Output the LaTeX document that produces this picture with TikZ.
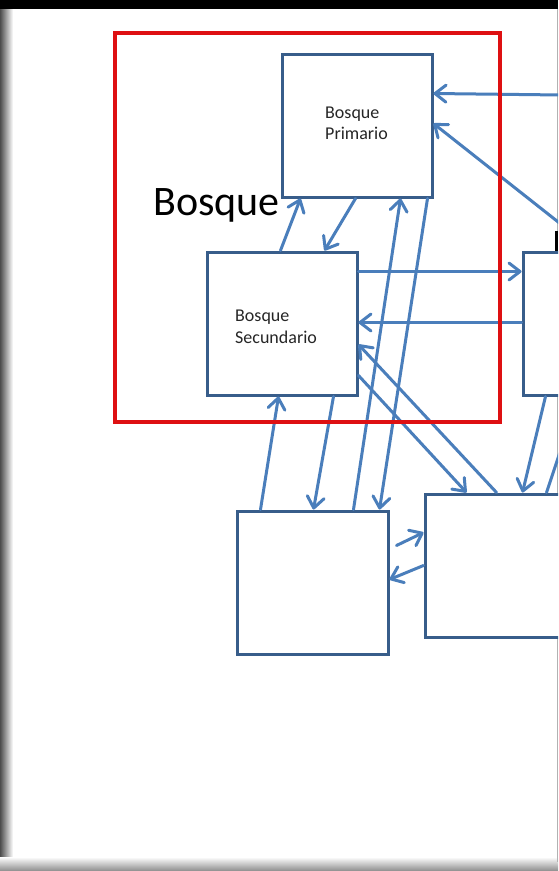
\documentclass[tikz,border=0pt]{standalone}
\usepackage{fontspec}
\setmainfont{Carlito}
\usetikzlibrary{arrows.meta}
\definecolor{boxblue}{RGB}{56,93,138}
\definecolor{arrblue}{RGB}{74,126,187}
\definecolor{frred}{RGB}{222,16,18}
\begin{document}
\begin{tikzpicture}[x=1pt,y=-1pt,
  box/.style={draw=boxblue,line width=3pt,fill=white,rectangle,inner sep=0pt,minimum width=150pt,minimum height=143pt},
  conn/.style={draw=arrblue,line width=3pt,line cap=round},
  arr/.style={conn,-{Straight Barb[length=11pt,width=17pt,round]}},
  lbl/.style={font=\fontsize{18}{21.6}\selectfont,align=left,inner sep=0pt,anchor=north west,text=black!85}]
\useasboundingbox (0,0) rectangle (558,871);
\clip (0,0) rectangle (558,871);
% slide background and frame
\fill[white] (0,0) rectangle (558,871);
\shade[left color=black!70,right color=white] (0,9) rectangle (13,871);
\shade[top color=white,bottom color=black!45] (0,857) rectangle (558,871);
\fill[black] (0,0) rectangle (558,9);
\draw[black!30,line width=1pt] (557.5,9) -- (557.5,862);
\draw[black,line width=2.6pt] (556.5,231) -- (556.5,303);
% boxes
\node[box] (prim) at (357,125.5) {};
\node[box] (sec) at (282,323.5) {};
\node[box,minimum width=151pt] (bl) at (312.5,582.5) {};
\node[box] (br) at (500,565.5) {};
\node[box] (rm) at (598,323.5) {};
% labels
\node[lbl] (tprim) at (325,106.5) {Bosque\\Primario};
\node[lbl] (tsec) at (235,310) {Bosque\\Secundario};
\node[font=\fontsize{42}{48}\selectfont,anchor=base west,inner sep=0pt] (tbig) at (153,215) {Bosque};
% free ends
\coordinate (r1) at (562,95);
\coordinate (r2) at (562,225);
\coordinate (r3) at (562,446);
% connectors
\draw[arr] (r1) -- ([yshift=-41pt]prim.north east);
\draw[arr] (r2) -- ([yshift=-71pt]prim.north east);
\draw[arr] ([xshift=75pt]sec.north west) -- ([xshift=20pt]prim.south west);
\draw[arr] ([xshift=75pt]prim.south west) -- ([xshift=119pt]sec.north west);
\draw[arr] ([xshift=118pt]bl.north west) -- ([xshift=120pt]prim.south west);
\draw[arr] ([xshift=147pt]prim.south west) -- ([xshift=144pt]bl.north west);
\draw[arr] ([yshift=-21pt]sec.north east) -- ([yshift=-21pt]rm.north west);
\draw[arr] ([yshift=-72pt]rm.north west) -- ([yshift=-72pt]sec.north east);
\draw[arr] ([xshift=73pt]br.north west) -- ([yshift=-94pt]sec.north east);
\draw[arr] ([yshift=-125pt]sec.north east) -- ([xshift=43pt]br.north west);
\draw[arr] ([xshift=25pt]bl.north west) -- ([xshift=73pt]sec.south west);
\draw[arr] ([xshift=128pt]sec.south west) -- ([xshift=78pt]bl.north west);
\draw[arr] ([xshift=24pt]rm.south west) -- ([xshift=99pt]br.north west);
\draw[conn] ([xshift=123pt]br.north west) -- (r3);
\draw[arr] ([shift={(7pt,-36pt)}]bl.north east) -- ([yshift=-40pt]br.north west);
\draw[arr] ([yshift=-73pt]br.north west) -- ([yshift=-70pt]bl.north east);
% red group frame
\node[draw=frred,line width=4.4pt,rectangle,inner sep=0pt,minimum width=385pt,minimum height=389pt] (grp) at (307.5,227.5) {};
\end{tikzpicture}
\end{document}
